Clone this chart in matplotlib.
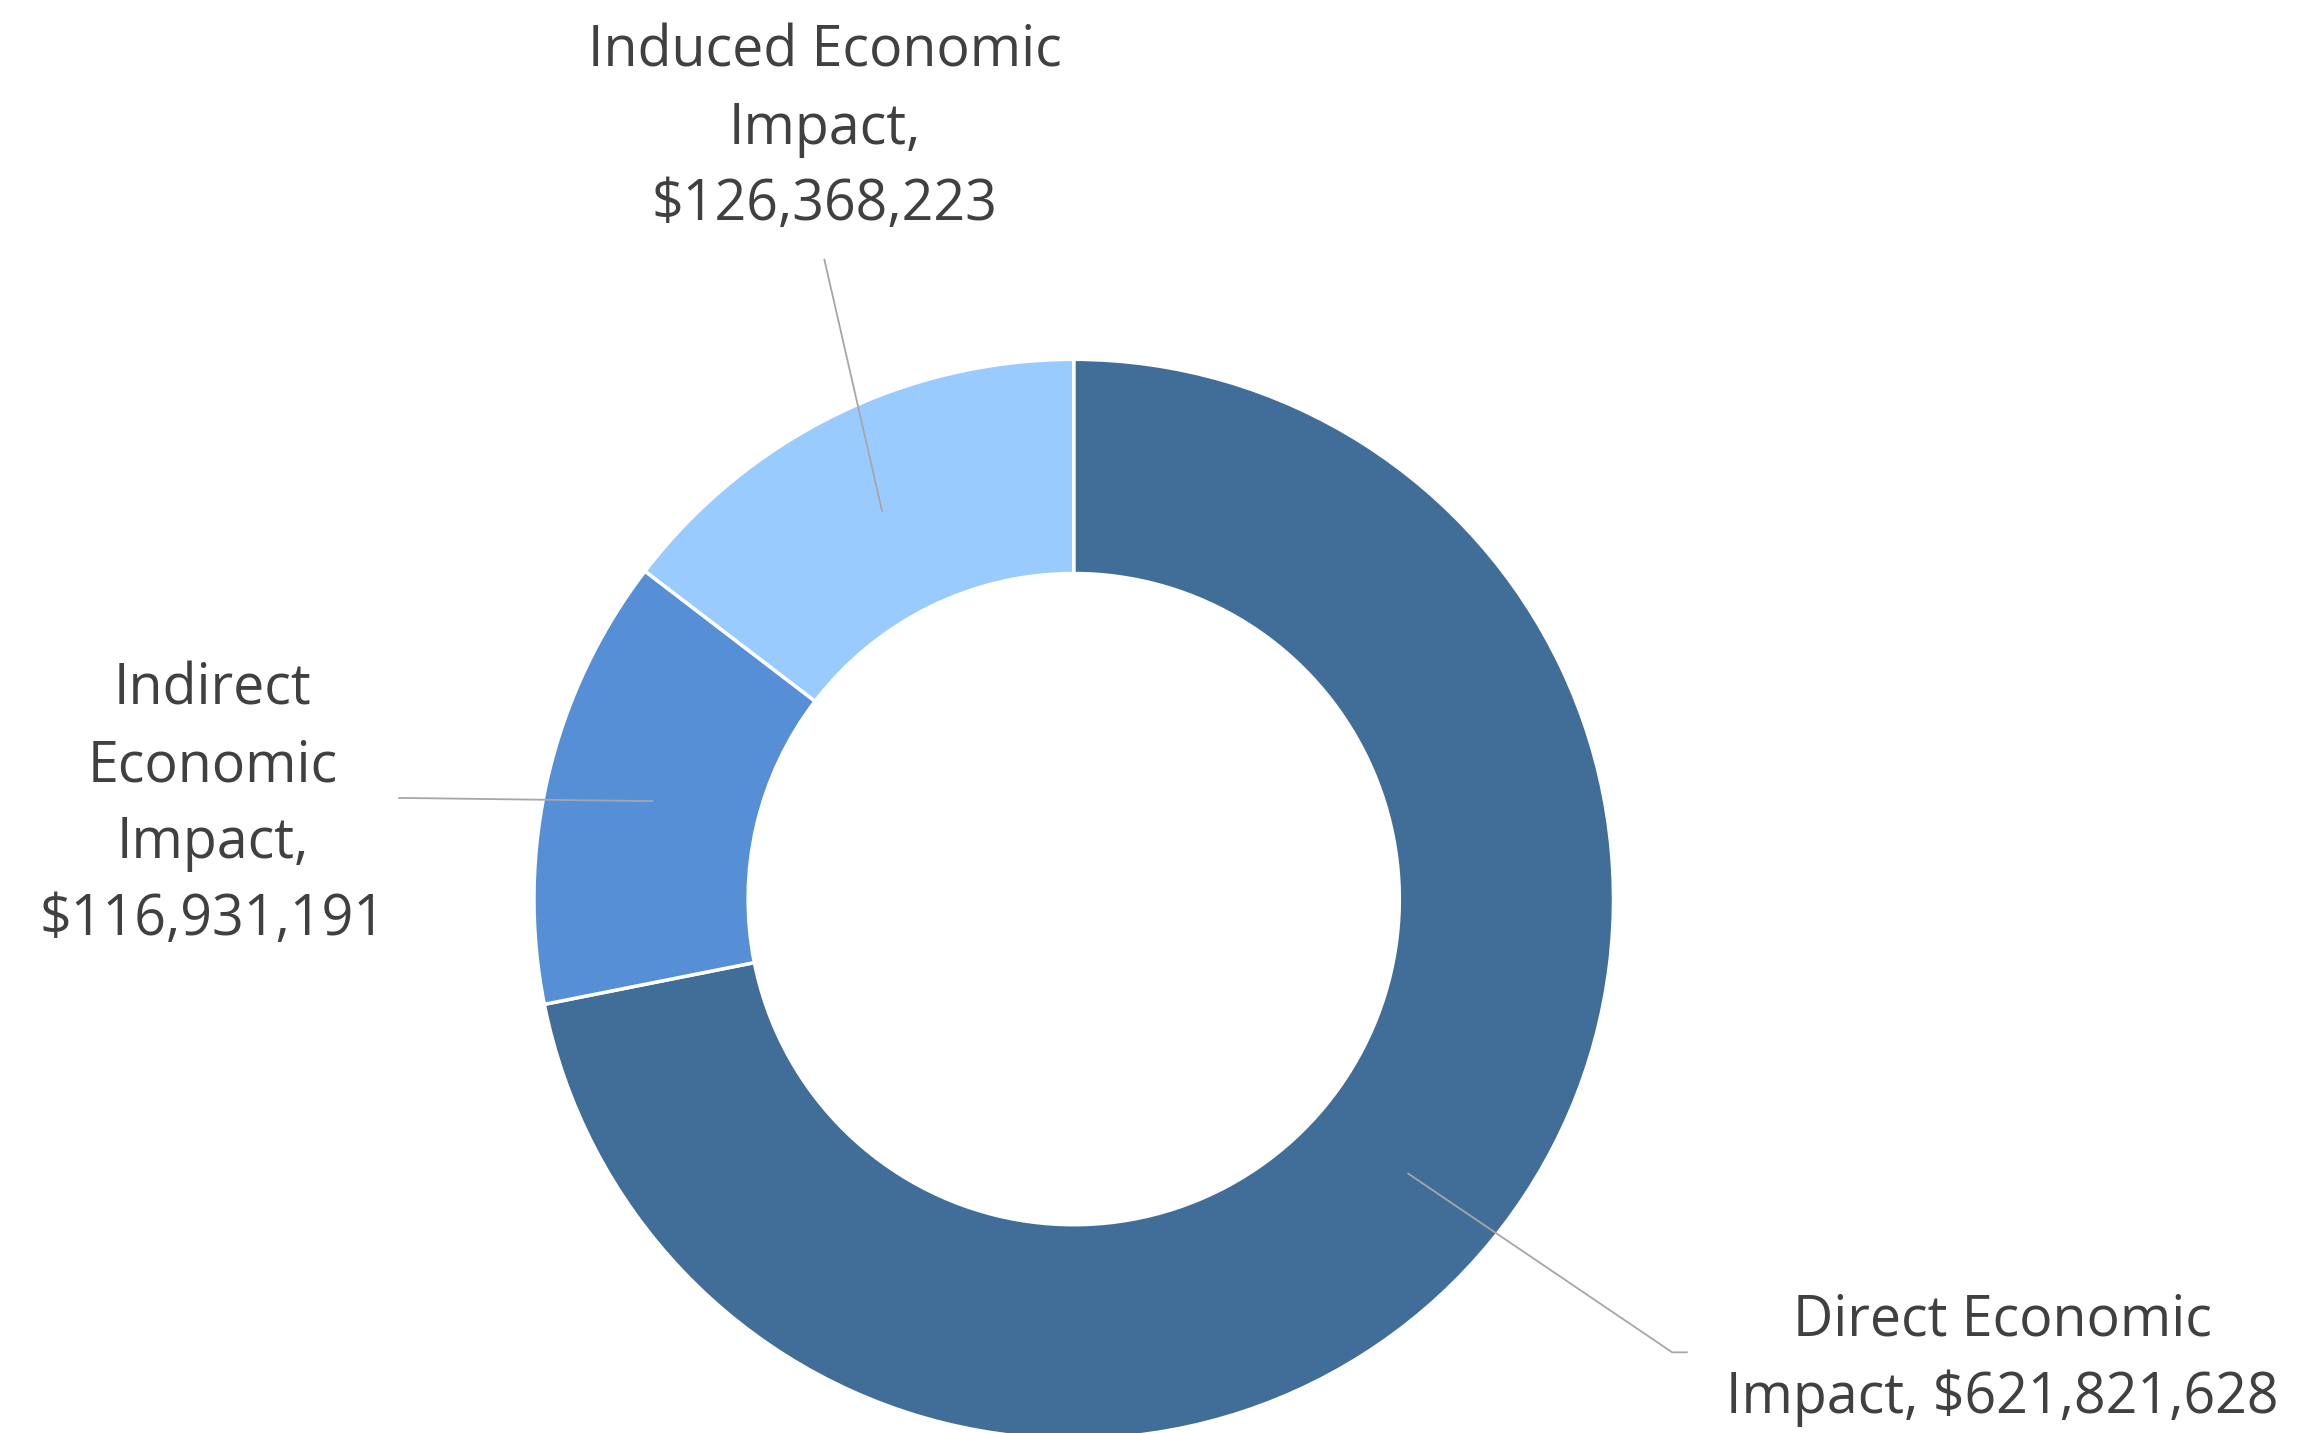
import numpy as np
import matplotlib.pyplot as plt

# data
labels = ["Direct Economic\nImpact, $621,821,628",
          "Indirect\nEconomic\nImpact,\n$116,931,191",
          "Induced Economic\nImpact,\n$126,368,223"]
values = [621821628, 116931191, 126368223]
colors = ["#416E98", "#568FD5", "#9ACBFF"]

# label placement (canvas units, 1568 x 977, y up)
label_pos = [(1365, 50), (145, 428), (562, 889)]
line_start = [(1140, 55), (272, 433), (562, 800)]

W, H = 1568, 977
fig = plt.figure(figsize=(23, 14.33), dpi=100)
ax = fig.add_axes([0, 0, 1, 1])

cx, cy = 732, H - 613
r_out = 368
r_in = 222

wedges, _ = ax.pie(values, colors=colors, startangle=90, counterclock=False,
                   center=(cx, cy), radius=r_out, frame=True,
                   wedgeprops=dict(width=r_out - r_in, edgecolor="white", linewidth=2.5))
ax.set_xlim(0, W)
ax.set_ylim(0, H)
ax.axis("off")

# leader lines go to the middle of each ring segment
r_mid = (r_out + r_in) / 2
for i, w in enumerate(wedges):
    mid = np.deg2rad((w.theta1 + w.theta2) / 2)
    ex = cx + r_mid * np.cos(mid)
    ey = cy + r_mid * np.sin(mid)
    sx, sy = line_start[i]
    if i == 0:
        ax.plot([ex, sx, sx + 10], [ey, sy, sy], color="#A6A6A6", lw=1.3, zorder=5)
    else:
        ax.plot([ex, sx], [ey, sy], color="#A6A6A6", lw=1.3, zorder=5)
    ax.text(label_pos[i][0], label_pos[i][1], labels[i], ha="center", va="center",
            fontsize=40, color="#404040", family="Open Sans", linespacing=1.46)

fig.savefig("out.png", dpi=100)
